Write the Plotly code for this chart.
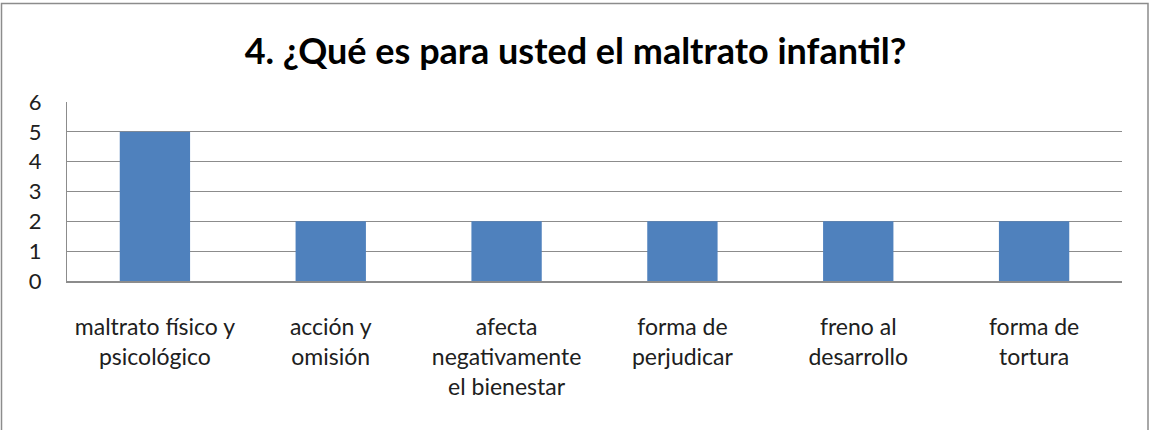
import plotly.graph_objects as go

categories = ["maltrato físico y<br>psicológico", "acción y<br>omisión",
              "afecta<br>negativamente<br>el bienestar", "forma de<br>perjudicar",
              "freno al<br>desarrollo", "forma de<br>tortura"]
values = [5, 2, 2, 2, 2, 2]
y_ticks = [0, 1, 2, 3, 4, 5, 6]

W, H = 1151, 430
ml, mr, mt, mb = 67, 29, 102, 149
pw, ph = W - ml - mr, H - mt - mb
FONT = "Lato, Carlito, Calibri, sans-serif"

fig = go.Figure(go.Bar(x=categories, y=values, marker=dict(color="#4F81BD", line=dict(width=0)),
                       width=0.4))

fig.update_layout(
    width=W, height=H,
    margin=dict(l=ml, r=mr, t=mt, b=mb),
    paper_bgcolor="white", plot_bgcolor="white",
    showlegend=False,
    title=dict(text="<b>4. ¿Qué es para usted el maltrato infantil?</b>",
               x=0.5, xref="container", xanchor="center", y=1 - 51 / H, yanchor="middle",
               font=dict(family=FONT, size=36, color="black")),
    font=dict(family=FONT, size=23, color="#202020"),
)
fig.update_xaxes(showgrid=False, showline=True, linecolor="#8C8C8C", linewidth=1.5,
                 ticks="", ticklabelstandoff=25, tickfont=dict(size=23))
fig.update_yaxes(range=[0, 6], tickvals=y_ticks, showgrid=True, gridcolor="#8C8C8C", gridwidth=1.2,
                 showline=True, linecolor="#8C8C8C", linewidth=1.2, ticks="", zeroline=False,
                 ticklabelstandoff=20, tickfont=dict(size=22))

# outer chart border
x0 = (1.5 - ml) / pw
x1 = (1148 - ml) / pw
y1 = (H - mb - 3.5) / ph
y0 = (H - mb - 440) / ph
fig.add_shape(type="rect", xref="paper", yref="paper", x0=x0, x1=x1, y0=y0, y1=y1,
              line=dict(color="#8C8C8C", width=1.5), layer="below")

fig.write_html("out.html", config={"displayModeBar": False},
               post_script="document.body.style.margin='0';document.body.style.overflow='hidden';")
